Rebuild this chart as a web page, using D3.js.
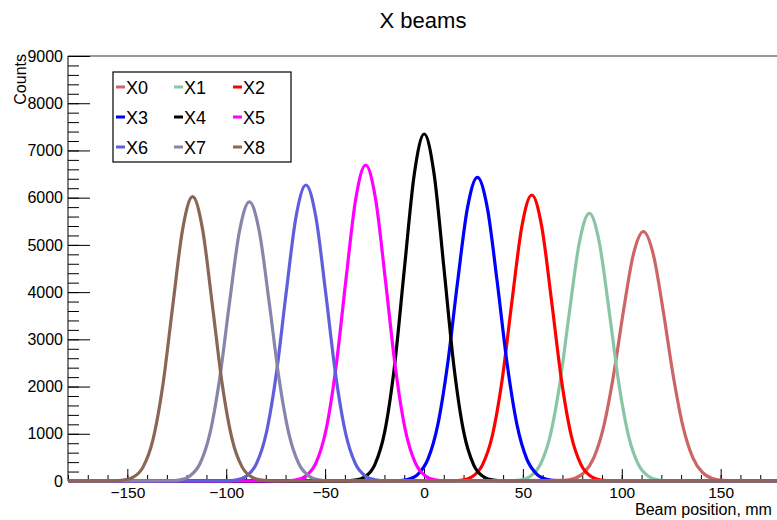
<!DOCTYPE html>
<html>
<head>
<meta charset="utf-8">
<script src="https://cdn.jsdelivr.net/npm/d3@7"></script>
<style>
  body { margin: 0; background: #fff; }
  svg { display: block; font-family: "Liberation Sans", Arial, Helvetica, sans-serif; }
</style>
</head>
<body>
<div id="chart"></div>
<script>
// series
var seriesNames = ["X0", "X1", "X2", "X3", "X4", "X5", "X6", "X7", "X8"];
var seriesColors = ["#cc6666", "#88c6a6", "#ff0000", "#0000ff", "#000000", "#ff00ff", "#5f5fdd", "#8686aa", "#8a6654"];
var peakCenters = [110.9, 83.6, 54.5, 27.0, 0.1, -29.5, -59.7, -88.3, -117.0];
var sampleOffsets = [-40, -35, -30, -25, -20, -15, -10, -5, 0, 5, 10, 15, 20, 25, 30, 35, 40];

var x0Counts = [12, 51, 176, 497, 1163, 2255, 3617, 4803, 5279, 4803, 3617, 2255, 1163, 497, 176, 51, 12];
var x1Counts = [4, 22, 96, 333, 924, 2043, 3602, 5061, 5669, 5061, 3602, 2043, 924, 333, 96, 22, 4];
var x2Counts = [4, 21, 95, 337, 953, 2140, 3814, 5395, 6056, 5395, 3814, 2140, 953, 337, 95, 21, 4];
var x3Counts = [8, 37, 146, 464, 1194, 2495, 4222, 5789, 6431, 5789, 4222, 2495, 1194, 464, 146, 37, 8];
var x4Counts = [3, 18, 89, 343, 1035, 2439, 4501, 6501, 7348, 6501, 4501, 2439, 1035, 343, 89, 18, 3];
var x5Counts = [5, 26, 113, 393, 1091, 2412, 4252, 5975, 6692, 5975, 4252, 2412, 1091, 393, 113, 26, 5];
var x6Counts = [4, 24, 106, 368, 1022, 2259, 3983, 5596, 6268, 5596, 3983, 2259, 1022, 368, 106, 24, 4];
var x7Counts = [5, 25, 108, 366, 997, 2172, 3789, 5290, 5913, 5290, 3789, 2172, 997, 366, 108, 25, 5];
var x8Counts = [3, 17, 80, 299, 881, 2042, 3723, 5339, 6021, 5339, 3723, 2042, 881, 299, 80, 17, 3];
var allCounts = [x0Counts, x1Counts, x2Counts, x3Counts, x4Counts, x5Counts, x6Counts, x7Counts, x8Counts];

var xMajor = [-150, -100, -50, 0, 50, 100, 150];
var yMajor = [0, 1000, 2000, 3000, 4000, 5000, 6000, 7000, 8000, 9000];

var w = 777, h = 520;
var margin = {top: 56, right: -3, bottom: 39, left: 68};
var xMin = -180, xMax = 180;

var svg = d3.select("#chart").append("svg")
    .attr("width", w)
    .attr("height", h);

var x = d3.scaleLinear().domain([xMin, xMax]).range([margin.left, w - margin.right]);
var y = d3.scaleLinear().domain([0, 9000]).range([h - margin.bottom, margin.top]);

svg.append("text")
    .attr("x", 423)
    .attr("y", 28)
    .attr("text-anchor", "middle")
    .style("font-size", "22px")
    .text("X beams");

// frame top line
svg.append("line")
    .attr("x1", x(xMin)).attr("x2", x(xMax))
    .attr("y1", y(9000)).attr("y2", y(9000))
    .attr("stroke", "#333").attr("stroke-width", 1.2);

// x axis
var xMinor = d3.range(xMin, xMax + 1, 10);
svg.append("g")
    .attr("transform", "translate(0," + y(0) + ")")
    .call(d3.axisBottom(x).tickValues(xMinor).tickSizeInner(-6).tickSizeOuter(0).tickFormat(""))
    .call(function (g) { g.select(".domain").remove(); });

var xAxisG = svg.append("g")
    .attr("transform", "translate(0," + y(0) + ")")
    .call(d3.axisBottom(x).tickValues(xMajor).tickSizeInner(-12).tickSizeOuter(0).tickPadding(6));
xAxisG.select(".domain").remove();
xAxisG.selectAll("text").style("font-size", "15.5px").attr("fill", "#000");

svg.append("line")
    .attr("x1", x(xMin)).attr("x2", x(xMax))
    .attr("y1", y(0)).attr("y2", y(0))
    .attr("stroke", "#000");

// y axis
var yMinor = d3.range(0, 9001, 200);
svg.append("g")
    .attr("transform", "translate(" + x(xMin) + ",0)")
    .call(d3.axisLeft(y).tickValues(yMinor).tickSizeInner(-11).tickSizeOuter(0).tickFormat(""))
    .call(function (g) { g.select(".domain").remove(); });

var yAxisG = svg.append("g")
    .attr("transform", "translate(" + x(xMin) + ",0)")
    .call(d3.axisLeft(y).tickValues(yMajor).tickSizeInner(-22).tickSizeOuter(0).tickPadding(5).tickFormat(d3.format("d")));
yAxisG.select(".domain").remove();
yAxisG.selectAll("text").style("font-size", "16px").attr("fill", "#000");

svg.append("line")
    .attr("x1", x(xMin)).attr("x2", x(xMin))
    .attr("y1", y(0)).attr("y2", y(9000))
    .attr("stroke", "#000");

svg.append("text")
    .attr("transform", "translate(26," + (y(9000) - 2) + ") rotate(-90)")
    .attr("text-anchor", "end")
    .style("font-size", "16px")
    .text("Counts");

svg.append("text")
    .attr("x", 635)
    .attr("y", 515)
    .style("font-size", "16px")
    .text("Beam position, mm");

// curves
var line = d3.line()
    .x(function (d) { return x(d[0]); })
    .y(function (d) { return y(d[1]); })
    .curve(d3.curveMonotoneX);

seriesNames.forEach(function (name, i) {
    var pts = [[xMin, 0]];
    sampleOffsets.forEach(function (o, k) {
        pts.push([peakCenters[i] + o, allCounts[i][k]]);
    });
    pts.push([xMax, 0]);
    svg.append("path")
        .datum(pts)
        .attr("fill", "none")
        .attr("stroke", seriesColors[i])
        .attr("stroke-width", 3.2)
        .attr("stroke-linejoin", "round")
        .attr("d", line);
});

// legend
var legend = svg.append("g");
legend.append("rect")
    .attr("x", 113).attr("y", 72)
    .attr("width", 178).attr("height", 90)
    .attr("fill", "#fff").attr("stroke", "#000").attr("stroke-width", 1.2);

var colX = [116, 174, 233];
var rowY = [87, 117, 147];
seriesNames.forEach(function (name, i) {
    var cx = colX[i % 3], cy = rowY[Math.floor(i / 3)];
    legend.append("line")
        .attr("x1", cx).attr("x2", cx + 9)
        .attr("y1", cy).attr("y2", cy)
        .attr("stroke", seriesColors[i]).attr("stroke-width", 3);
    legend.append("text")
        .attr("x", cx + 10)
        .attr("y", cy + 6.5)
        .style("font-size", "18px")
        .text(name);
});
</script>
</body>
</html>
